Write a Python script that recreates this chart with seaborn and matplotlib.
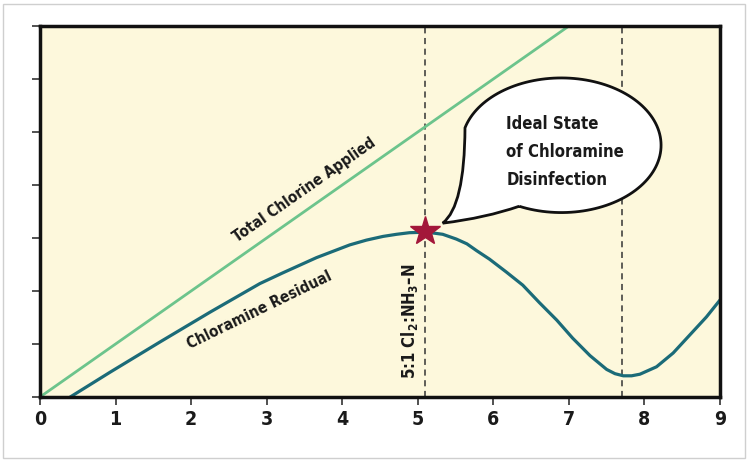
import numpy as np
import matplotlib
matplotlib.use("Agg")
import matplotlib.pyplot as plt
import seaborn as sns
from matplotlib import font_manager
from matplotlib.path import Path
from matplotlib.patches import PathPatch, Rectangle

# data
x_ticks = [0, 1, 2, 3, 4, 5, 6, 7, 8, 9]
applied_x = [0.0, 7.0]
applied_y = [0.0, 7.0]
residual_x = [0.40, 0.93, 1.59, 2.25, 2.91, 3.21, 3.66, 4.10, 4.32, 4.54, 4.72, 4.89,
              5.12, 5.33, 5.51, 5.65, 5.78, 5.95, 6.17, 6.39, 6.61, 6.84, 7.05, 7.28,
              7.50, 7.61, 7.72, 7.83, 7.94, 8.16, 8.38, 8.60, 8.82, 9.00]
residual_y = [0.00, 0.47, 1.04, 1.60, 2.14, 2.34, 2.63, 2.87, 2.96, 3.03, 3.07, 3.10,
              3.11, 3.07, 2.98, 2.89, 2.76, 2.60, 2.36, 2.11, 1.78, 1.45, 1.11, 0.78,
              0.52, 0.44, 0.40, 0.40, 0.43, 0.57, 0.83, 1.17, 1.51, 1.83]
ideal_x = 5.1
ideal_y = 3.13
breakpoint_x = 7.7

sns.set_style("ticks")

# pick a condensed / narrow bold face if the system has one
narrow_file = None
for f in font_manager.fontManager.ttflist:
    if ("Narrow" in f.name or "Condensed" in f.name or f.stretch in ("condensed", "semi-condensed")) \
            and f.weight in ("bold", 700, "heavy", 800):
        narrow_file = f.fname
        break
if narrow_file:
    fam = font_manager.FontProperties(fname=narrow_file).get_name()
    plt.rcParams["font.stretch"] = "condensed"
else:
    fam = "Liberation Sans"
plt.rcParams["font.family"] = [fam, "DejaVu Sans"]
plt.rcParams["mathtext.fontset"] = "custom"
plt.rcParams["mathtext.rm"] = fam + ":bold"
plt.rcParams["mathtext.default"] = "rm"


def fp(size):
    if narrow_file:
        return font_manager.FontProperties(fname=narrow_file, size=size)
    return font_manager.FontProperties(family=fam, weight="bold", size=size)


fig = plt.figure(figsize=(7.47, 4.66), dpi=100)
ax = fig.add_axes([40 / 747, 1 - 397 / 466, 680 / 747, 371 / 466])
ax.set_facecolor("#fdf8dc")

# outer frame
fig.patches.append(Rectangle((0.004, 0.017), 0.993, 0.975, transform=fig.transFigure,
                             fill=False, edgecolor="#cfcfcf", lw=1.0))

sns.lineplot(x=applied_x, y=applied_y, ax=ax, color="#6cc48c", lw=2.0, estimator=None)
sns.lineplot(x=residual_x, y=residual_y, ax=ax, color="#1b6b78", lw=2.3, estimator=None)

for xv in (ideal_x, breakpoint_x):
    ax.axvline(xv, color="#333333", lw=1.1, ls=(0, (4, 3)), zorder=1)

ax.plot([ideal_x], [ideal_y], marker="*", ms=22, color="#a3173a", mec="#a3173a", zorder=6)

# speech bubble
cx, cy, a, b = 6.9, 4.75, 1.32, 1.27
t = np.radians(np.linspace(-115, 165, 120))
arc = np.column_stack([cx + a * np.cos(t), cy + b * np.sin(t)])
tip = (5.33, 3.28)
ctrl = (5.62, 3.6)
verts = list(map(tuple, arc)) + [ctrl, tip, (5.9, 3.38), tuple(arc[0])]
codes = [Path.MOVETO] + [Path.LINETO] * (len(arc) - 1) + [Path.CURVE3, Path.CURVE3,
                                                           Path.CURVE3, Path.CURVE3]
ax.add_patch(PathPatch(Path(verts, codes), facecolor="white", edgecolor="#111111",
                       lw=2.0, zorder=5))
ax.text(6.17, 4.62, "Ideal State\nof Chloramine\nDisinfection", ha="left", va="center",
        fontproperties=fp(12), color="#1a1a1a", linespacing=1.72, zorder=7)

ax.text(3.5, 3.9, "Total Chlorine Applied", rotation=35, ha="center", va="center",
        fontproperties=fp(11), color="#1a1a1a", rotation_mode="anchor")
ax.text(2.91, 1.64, "Chloramine Residual", rotation=26, ha="center", va="center",
        fontproperties=fp(11), color="#1a1a1a", rotation_mode="anchor")
ax.text(4.89, 1.43, "5:1 Cl$_2$:NH$_3$\u2013N", rotation=90, ha="center", va="center",
        fontproperties=fp(12), color="#1a1a1a")

ax.set_xlim(0, 9)
ax.set_ylim(0, 7)
ax.set_xticks(x_ticks)
ax.set_yticks(range(8))
ax.set_yticklabels([])
ax.set_xticklabels([str(v) for v in x_ticks], color="#1a1a1a")
for lab in ax.get_xticklabels():
    lab.set_fontproperties(fp(14))
ax.tick_params(direction="out", length=6, width=1.2, color="#333333")
for s in ax.spines.values():
    s.set_linewidth(2.5)
    s.set_color("#111111")
ax.set_xlabel("")
ax.set_ylabel("")

fig.savefig("out.png", dpi=100)
